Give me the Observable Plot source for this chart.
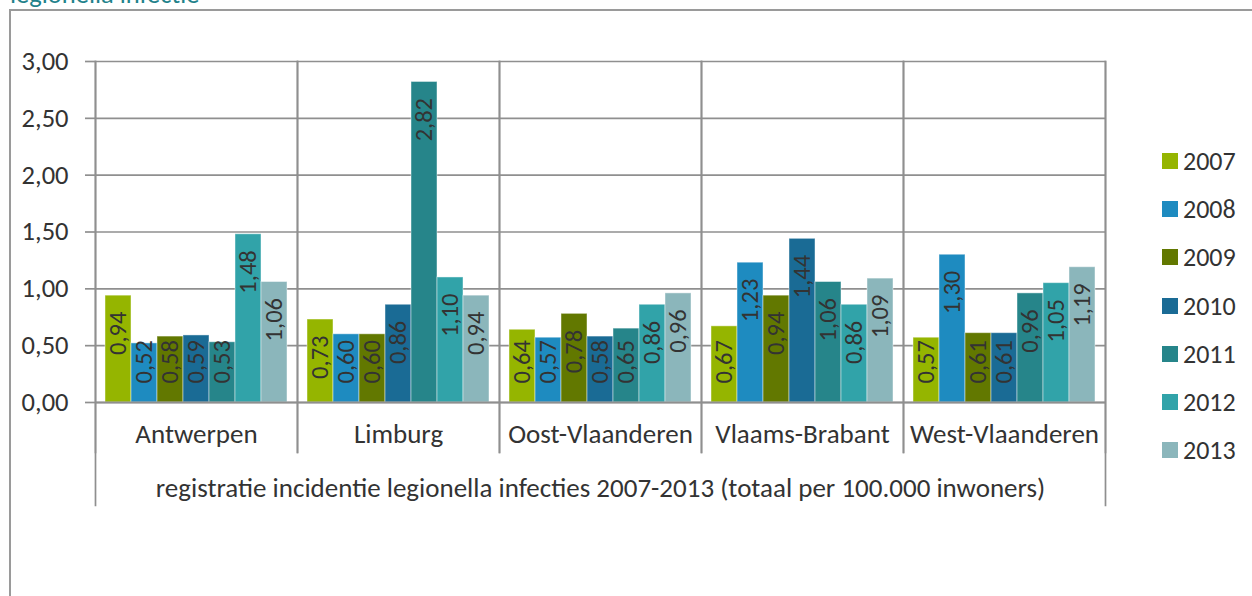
<!DOCTYPE html>
<html>
<head>
<meta charset="utf-8">
<script src="https://cdn.jsdelivr.net/npm/d3@7"></script>
<script src="https://cdn.jsdelivr.net/npm/@observablehq/plot@0.6"></script>
<style>
  html, body { margin: 0; padding: 0; background: #fff; }
  #wrap { position: relative; width: 1252px; height: 596px; overflow: hidden; font-family: Carlito, Calibri, Lato, "Open Sans", sans-serif; color: #404040; }
  #title { position: absolute; left: 10px; top: -19px; font-size: 26.5px; line-height: 26.5px; color: #1f828b; white-space: nowrap; }
  #box { position: absolute; left: 9px; top: 9px; right: -10px; bottom: -10px; border-left: 2px solid #9a9a9a; border-top: 2px solid #9a9a9a; }
  #chart { position: absolute; left: 0; top: 0; }
  #legend { position: absolute; left: 1162px; top: 137px; }
  .lg { display: flex; align-items: center; height: 48.2px; font-size: 26px; color: #333; }
  .sw { width: 16px; height: 16px; margin-right: 5px; }
</style>
</head>
<body>
<div id="wrap">
  <div id="box"></div>
  <div id="title">legionella infectie</div>
  <div id="chart"></div>
  <div id="legend"></div>
</div>
<script>
const regions = ["Antwerpen", "Limburg", "Oost-Vlaanderen", "Vlaams-Brabant", "West-Vlaanderen"];
const years = ["2007", "2008", "2009", "2010", "2011", "2012", "2013"];
const colors = ["#95b500", "#1e8bc0", "#627800", "#1a6b95", "#26858a", "#31a3a9", "#8bb6bb"];
const values = {
  "Antwerpen":       [0.94, 0.52, 0.58, 0.59, 0.53, 1.48, 1.06],
  "Limburg":         [0.73, 0.60, 0.60, 0.86, 2.82, 1.10, 0.94],
  "Oost-Vlaanderen": [0.64, 0.57, 0.78, 0.58, 0.65, 0.86, 0.96],
  "Vlaams-Brabant":  [0.67, 1.23, 0.94, 1.44, 1.06, 0.86, 1.09],
  "West-Vlaanderen": [0.57, 1.30, 0.61, 0.61, 0.96, 1.05, 1.19]
};
const yTicks = [0, 0.5, 1, 1.5, 2, 2.5, 3];
const xTitle = "registratie incidentie legionella infecties 2007-2013 (totaal per 100.000 inwoners)";

const data = regions.flatMap(r => years.map((y, i) => ({region: r, year: y, value: values[r][i]})));
const fmt = v => v.toFixed(2).replace(".", ",");
const grid = "#8f8f8f";
const font = "Carlito, Calibri, Lato, 'Open Sans', sans-serif";

const chart = Plot.plot({
  width: 1252,
  height: 596,
  marginLeft: 93,
  marginRight: 145,
  marginTop: 61,
  marginBottom: 194,
  style: {fontFamily: font, color: "#404040", background: "transparent"},
  fx: {domain: regions, padding: 0, axis: null},
  x: {domain: years, paddingInner: 0, paddingOuter: 0.28, axis: null},
  y: {domain: [0, 3], axis: null},
  color: {domain: years, range: colors},
  marks: [
    Plot.gridY(yTicks, {stroke: grid, strokeOpacity: 1, strokeWidth: 1.7}),
    Plot.frame({anchor: "left", stroke: grid, strokeWidth: 1.7, insetBottom: -50}),
    Plot.frame({anchor: "right", stroke: grid, strokeWidth: 1.7, insetBottom: -50}),
    Plot.frame({anchor: "left", fx: regions[0], stroke: grid, strokeWidth: 1.7, insetBottom: -103}),
    Plot.frame({anchor: "right", fx: regions[regions.length - 1], stroke: grid, strokeWidth: 1.7, insetBottom: -103}),
    Plot.barY(data, {fx: "region", x: "year", y: "value", fill: "year", stroke: "white", strokeOpacity: 0.45, strokeWidth: 1}),
    Plot.ruleY([0], {stroke: grid, strokeWidth: 2.2}),
    Plot.text(data, {
      fx: "region", x: "year",
      y: d => Math.max(d.value, 0.69),
      text: d => fmt(d.value),
      rotate: -90, textAnchor: "end", lineAnchor: "middle",
      dy: 16, fontSize: 24.5, fill: "#333"
    }),
    Plot.axisY(yTicks, {
      anchor: "left", tickSize: 10, tickPadding: 17, fontSize: 26.5, label: null,
      tickFormat: fmt, stroke: grid, strokeWidth: 1.7, fill: "#333"
    }),
    Plot.axisFx({
      anchor: "bottom", tickSize: 0, tickPadding: 21, fontSize: 27, fill: "#333",
      label: xTitle, labelAnchor: "center", labelOffset: 94
    })
  ]
});
document.getElementById("chart").appendChild(chart);

const legend = d3.select("#legend");
years.forEach((y, i) => {
  const row = legend.append("div").attr("class", "lg");
  row.append("div").attr("class", "sw").style("background", colors[i]);
  row.append("span").text(y);
});
</script>
</body>
</html>
